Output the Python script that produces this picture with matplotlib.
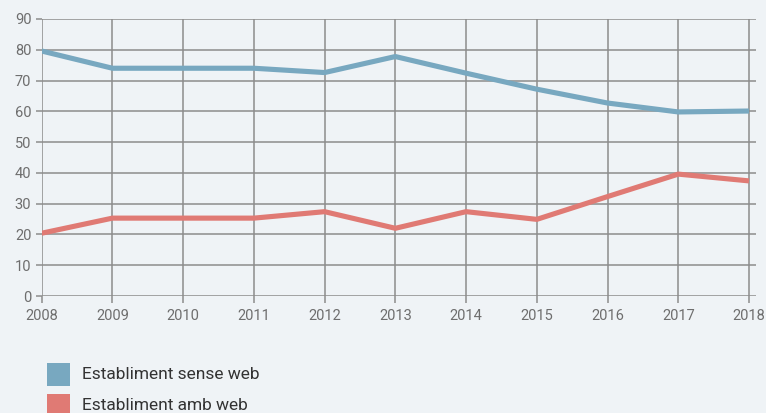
import matplotlib
matplotlib.use("Agg")
import matplotlib.pyplot as plt
from matplotlib.patches import Rectangle

years = [2008, 2009, 2010, 2011, 2012, 2013, 2014, 2015, 2016, 2017, 2018]
sense_web = [79.6, 74.0, 74.0, 74.0, 72.6, 77.8, 72.4, 67.2, 62.7, 59.8, 60.1]
amb_web = [20.4, 25.3, 25.3, 25.3, 27.4, 22.0, 27.4, 24.9, 32.3, 39.6, 37.4]
series_names = ["Establiment sense web", "Establiment amb web"]
colors = ["#78a8c0", "#e07a74"]
y_ticks = [0, 10, 20, 30, 40, 50, 60, 70, 80, 90]

plt.rcParams['font.family'] = ['Roboto', 'DejaVu Sans']

W, H = 766, 413
bg = "#eff3f6"
grid_c = "#8c8c8c"
fig = plt.figure(figsize=(W / 100, H / 100), dpi=100, facecolor=bg)
ax = fig.add_axes([41.7 / W, 1 - 296 / H, (755.7 - 41.7) / W, (296 - 19) / H])
ax.set_facecolor(bg)

ax.plot(years, sense_web, color=colors[0], lw=3.7, solid_capstyle='butt', zorder=3)
ax.plot(years, amb_web, color=colors[1], lw=3.7, solid_capstyle='butt', zorder=3)

ax.set_xlim(2008, 2018.095)
ax.set_ylim(0, 90)
ax.set_xticks(years)
ax.set_xticklabels([str(y) for y in years])
ax.set_yticks(y_ticks)
ax.grid(True, color=grid_c, lw=1.1, zorder=1)
ax.set_axisbelow(True)
for s in ax.spines.values():
    s.set_visible(False)
ax.tick_params(axis='both', colors=grid_c, width=1.1, labelcolor="#6e6e6e", labelsize=10.5)
ax.tick_params(axis='x', length=5, pad=4.5)
ax.tick_params(axis='y', length=4.5, pad=3)

# legend
sq = 23
for i, (name, c) in enumerate(zip(series_names, colors)):
    yc = 374.5 + i * 31
    fig.add_artist(Rectangle((47 / W, 1 - (yc + sq / 2) / H), sq / W, sq / H,
                             transform=fig.transFigure, facecolor=c, edgecolor='none'))
    fig.text(82 / W, 1 - yc / H, name, fontsize=12.5, color="#333333", va='center', ha='left')

fig.savefig("out.png", dpi=100, facecolor=bg)
